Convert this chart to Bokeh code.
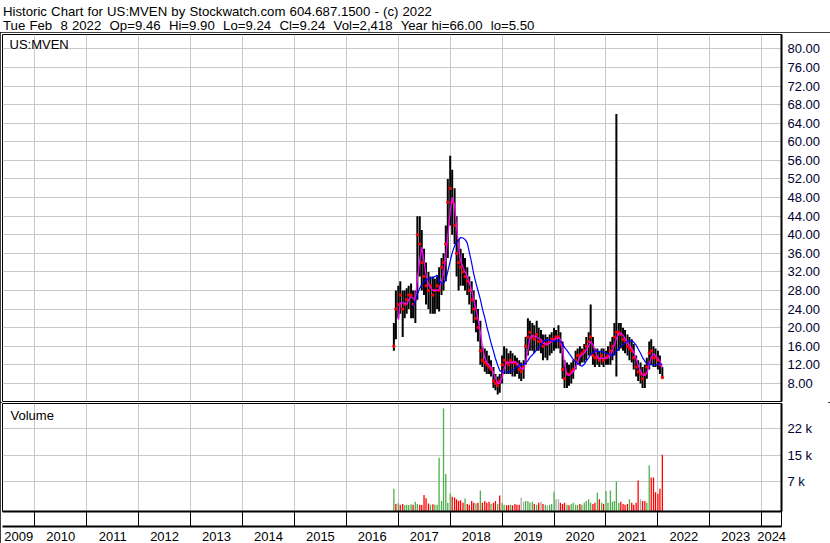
import numpy as np
import pandas as pd
from bokeh.plotting import figure
from bokeh.models import (Range1d, FixedTicker, LinearAxis, Grid, Label, Div,
                          CustomJSTickFormatter, PrintfTickFormatter, ColumnDataSource)
from bokeh.layouts import column
from bokeh.embed import file_html
from bokeh.resources import INLINE

TITLE_1 = "Historic Chart for US:MVEN by Stockwatch.com 604.687.1500 - (c) 2022"
TITLE_2 = "Tue Feb  8 2022  Op=9.46  Hi=9.90  Lo=9.24  Cl=9.24  Vol=2,418  Year hi=66.00  lo=5.50"
SYMBOL = "US:MVEN"
VOL_TITLE = "Volume"

# half-monthly bars (1st and 16th of each month), Dec 2016 .. Feb 2022
high_2016 = [21, 28]
high_2017 = [29, 30, 28, 28, 28.5, 29, 29.5, 28, 28, 44, 44, 41,
             37, 34, 32, 31, 31, 30.5, 31, 33, 35, 36, 42, 52]
high_2018 = [57, 54, 50, 44, 39, 37, 36, 35, 33, 31, 30, 28,
             26, 24, 21.5, 16, 15.5, 15, 14, 13, 11.5, 10, 9.5, 10]
high_2019 = [14, 16, 15.5, 14.5, 15, 14.5, 14, 13.5, 13, 12.5, 13, 18,
             22, 21.5, 21, 20.5, 21.5, 20, 19.5, 18.5, 18.5, 18, 18.5, 19]
high_2020 = [20, 19.5, 20.5, 19, 17, 13, 12.5, 12, 12.5, 13, 15, 15.5,
             16, 15.5, 16.5, 18, 19, 25, 18, 15.5, 15.5, 15, 15.5, 15.5]
high_2021 = [15, 16, 17, 18, 21, 66, 21, 21, 20, 19.5, 18.5, 18,
             17.5, 16.5, 14, 13, 12.5, 11.5, 12, 13.5, 17, 17.5, 16, 15.5]
high_2022 = [15, 14, 11.5]

low_2016 = [15, 17.5]
low_2017 = [22, 23, 18, 22, 23, 24, 22, 22, 21, 26, 31, 28,
            27, 25, 24, 23, 23, 23, 24, 23.5, 27, 28, 30, 35]
low_2018 = [42, 40, 38, 31, 28, 29, 29, 28, 27, 25, 23, 21,
            19, 17, 12, 11.5, 10.5, 10, 10, 9.5, 7, 6.5, 5.6, 6]
low_2019 = [8, 10, 10, 10, 10, 9.5, 9.5, 10, 9, 8.5, 9, 12,
            14, 15, 15, 14.5, 15, 15, 14.5, 13, 13.5, 13, 14, 14.5]
low_2020 = [15, 15.5, 15.5, 14.5, 9, 7, 7, 7.5, 8, 9, 11, 12,
            12, 12.5, 12.5, 13, 14, 14, 12, 11.5, 12, 11.5, 12, 11.5]
low_2021 = [12, 12, 12, 13, 14, 9.5, 15, 15.5, 15, 14.5, 14, 13,
            12.5, 11, 9.5, 8.5, 8, 7, 7, 9, 11, 12, 11.5, 11.5]
low_2022 = [11, 10, 9.2]

close_2016 = [16, 24]
close_2017 = [25, 27, 24, 25, 26, 27, 27, 25, 26, 40, 38, 34,
              31, 29, 28, 29, 27, 28, 29, 28, 33, 34, 38, 47]
close_2018 = [50, 47, 42, 36, 34, 33, 32, 31, 30, 28, 26, 24,
              22, 20, 15, 13, 12.5, 12, 11.5, 11, 8.5, 8, 7.5, 8.5]
close_2019 = [12, 13, 12.5, 12, 13, 12.5, 12.5, 12, 11, 10.5, 11.5, 16,
              18, 19, 18, 17.5, 18.5, 17, 17, 16, 16.5, 16.5, 17, 17.5]
close_2020 = [17.5, 18, 18, 16.5, 11, 9, 10, 10, 10.5, 11, 13, 14,
              14, 14.5, 15, 16, 17, 18, 14, 13.5, 13.5, 13, 14, 13]
close_2021 = [13.5, 14, 15, 16, 18, 19, 19, 18.5, 17.5, 17, 16, 15.5,
              15, 13.5, 11.5, 10.5, 10, 9, 10, 11.5, 14.5, 15, 13.5, 13.5]
close_2022 = [13, 12, 9.24]

vol_2016 = [5400, 1200]
vol_2017 = [1400, 1000, 1200, 800, 1000, 900, 1100, 1000, 1800, 1200, 1000, 900,
            3700, 2800, 1300, 1000, 1100, 1000, 1000, 14000, 2000, 27600, 9500, 1500]
vol_2018 = [4100, 3200, 3000, 2500, 2000, 2200, 1500, 2700, 1200, 1000, 2000, 1500,
            1300, 1500, 4900, 1500, 2000, 1500, 1800, 1200, 1500, 2000, 1200, 3500]
vol_2019 = [1500, 1000, 800, 900, 1000, 800, 1200, 1000, 1000, 2900, 1800, 2000,
            2000, 1500, 1800, 1200, 1000, 1500, 1800, 1200, 1000, 800, 1000, 1200]
vol_2020 = [4600, 2500, 2500, 1500, 1200, 1500, 1000, 800, 1200, 1500, 1000, 900,
            1200, 1000, 1500, 2000, 2500, 1500, 1200, 1500, 4300, 2500, 1500, 1200]
vol_2021 = [4800, 1500, 4900, 1800, 2000, 7400, 1500, 1800, 1200, 1000, 1200, 2500,
            1500, 1000, 1500, 7700, 2500, 2000, 2000, 1500, 11900, 8500, 8500, 4400]
vol_2022 = [4000, 5400, 14800]

# bar colour: u = up (green), d = down (red), n = unchanged (grey)
dir_2016 = "ud"
dir_2017 = "ud du uu ud uu dd dd du du uu uu uu"
dir_2018 = "ud dd dd du dd dd ud ud dd du dd ud"
dir_2019 = "uu dd ud dd dn nu uu ud ud nd un uu"
dir_2020 = "un nd dd ud uu uu du uu uu dd ud ud"
dir_2021 = "uu uu uu ud dd du dd dd nd du ud dd"
dir_2022 = "ddd"

YEARS = list(range(2010, 2025))
PRICE_TICKS = list(range(8, 81, 4))
VOL_TICKS = [7333, 14667, 22000]

X_LO, X_HI = 2009.378, 2024.38
PRICE_LO, PRICE_HI = 4.1, 83.1
VOL_LO, VOL_HI = -900, 29000

# ---------------------------------------------------------------- data
dates = pd.date_range("2016-12-01", "2022-02-01", freq="SMS")
high = high_2016 + high_2017 + high_2018 + high_2019 + high_2020 + high_2021 + high_2022
low = low_2016 + low_2017 + low_2018 + low_2019 + low_2020 + low_2021 + low_2022
close = close_2016 + close_2017 + close_2018 + close_2019 + close_2020 + close_2021 + close_2022
vol = vol_2016 + vol_2017 + vol_2018 + vol_2019 + vol_2020 + vol_2021 + vol_2022
dirs = "".join([dir_2016, dir_2017, dir_2018, dir_2019, dir_2020, dir_2021, dir_2022]).replace(" ", "")
n = min(len(dates), len(high), len(low), len(close), len(vol), len(dirs))
dates = dates[:n]

days_in_year = np.where(dates.is_leap_year, 366, 365)
t = (dates.year + (dates.dayofyear - 1) / days_in_year).to_numpy()

cs = pd.Series(close[:n])
ma_fast = cs.rolling(3).mean().to_numpy()
ma_slow = cs.rolling(10).mean().to_numpy()
cmap = {"u": "#4cb04c", "d": "#ff0000", "n": "#a8a8a8"}

src = ColumnDataSource(dict(t=t, high=high[:n], low=low[:n], close=close[:n],
                            ma_fast=ma_fast, ma_slow=ma_slow, vol=vol[:n],
                            vcol=[cmap[c] for c in dirs[:n]]))

FONT = "Liberation Sans"
FS = "13px"
GRID = "#c8c8c8"
W = 830
xr = Range1d(X_LO, X_HI)

def strip_grids(p):
    p.center = [r for r in p.center if not isinstance(r, Grid)]

def style_right_axis(ax):
    ax.major_tick_in = 0
    ax.major_tick_out = 0
    ax.minor_tick_in = 0
    ax.minor_tick_out = 0
    ax.axis_line_color = "black"
    ax.axis_line_width = 2
    ax.major_label_standoff = 6
    ax.major_label_text_font = FONT
    ax.major_label_text_font_size = FS
    ax.major_label_text_color = "#000033"

# ---------------------------------------------------------------- price
p1 = figure(width=W, height=370, x_range=xr, y_range=Range1d(PRICE_LO, PRICE_HI),
            x_axis_location=None, y_axis_location="right",
            output_backend="svg", toolbar_location=None,
            min_border_left=2, min_border_right=49, min_border_top=2, min_border_bottom=1)
p1.outline_line_color = "black"
p1.outline_line_width = 1
strip_grids(p1)
p1.add_layout(Grid(dimension=0, ticker=FixedTicker(ticks=YEARS), grid_line_color=GRID))
p1.add_layout(Grid(dimension=1, ticker=FixedTicker(ticks=PRICE_TICKS), grid_line_color=GRID))
ay = p1.yaxis[0]
ay.ticker = FixedTicker(ticks=PRICE_TICKS)
ay.formatter = PrintfTickFormatter(format="%.2f")
style_right_axis(ay)

p1.segment(x0="t", y0="low", x1="t", y1="high", source=src, line_color="black", line_width=2)
p1.scatter("t", "close", source=src, marker="square", size=2, color="#ff0000")
p1.line("t", "ma_fast", source=src, line_color="#ff00ff", line_width=1.3)
p1.line("t", "ma_slow", source=src, line_color="#0000ff", line_width=1.2)
p1.add_layout(Label(x=X_LO, y=PRICE_HI, x_offset=7, y_offset=-2, text=SYMBOL,
                    text_baseline="top", text_font=FONT, text_font_size=FS,
                    text_color="black"))

# ---------------------------------------------------------------- volume
p2 = figure(width=W, height=141, x_range=xr, y_range=Range1d(VOL_LO, VOL_HI),
            x_axis_location=None, y_axis_location="right",
            output_backend="svg", toolbar_location=None,
            min_border_left=2, min_border_right=49, min_border_top=1, min_border_bottom=3)
p2.outline_line_color = "black"
p2.outline_line_width = 1
strip_grids(p2)
p2.add_layout(Grid(dimension=0, ticker=FixedTicker(ticks=YEARS), grid_line_color=GRID))
p2.add_layout(Grid(dimension=1, ticker=FixedTicker(ticks=VOL_TICKS), grid_line_color=GRID))
vy = p2.yaxis[0]
vy.ticker = FixedTicker(ticks=VOL_TICKS)
vy.formatter = CustomJSTickFormatter(code="return Math.round(tick/1000) + ' k';")
style_right_axis(vy)

p2.vbar(x="t", top="vol", bottom=VOL_LO, width=0.6 / 24, source=src,
        fill_color="vcol", line_color=None)
p2.add_layout(Label(x=X_LO, y=VOL_HI, x_offset=8, y_offset=-4, text=VOL_TITLE,
                    text_baseline="top", text_font=FONT, text_font_size=FS,
                    text_color="black"))

# tick band: year boundaries
ax_a = LinearAxis(ticker=FixedTicker(ticks=YEARS + [X_HI - 0.003]),
                  formatter=CustomJSTickFormatter(code="return '';"))
ax_a.major_tick_in = 0
ax_a.major_tick_out = 15
ax_a.major_tick_line_color = "black"
ax_a.minor_tick_out = 0
ax_a.minor_tick_in = 0
ax_a.major_label_standoff = 0
ax_a.major_label_text_font_size = "0px"
ax_a.axis_line_color = "black"
ax_a.axis_line_width = 2
p2.add_layout(ax_a, "below")

# label row: years centred in their (visible) span
label_pos = []
for y in [2009] + YEARS:
    a, b = max(y, X_LO), min(y + 1, X_HI)
    if b > a:
        label_pos.append((a + b) / 2)
ax_b = LinearAxis(ticker=FixedTicker(ticks=label_pos),
                  formatter=CustomJSTickFormatter(code="return String(Math.floor(tick));"))
ax_b.major_tick_in = 0
ax_b.major_tick_out = 0
ax_b.minor_tick_in = 0
ax_b.minor_tick_out = 0
ax_b.major_label_standoff = 5
ax_b.major_label_text_font = FONT
ax_b.major_label_text_font_size = FS
ax_b.major_label_text_color = "black"
ax_b.axis_line_color = "black"
ax_b.axis_line_width = 2
p2.add_layout(ax_b, "below")

title_div = Div(text=TITLE_1 + "<br>" + TITLE_2.replace("  ", "&nbsp; "),
                width=W, height=32, margin=(0, 0, 0, 0),
                styles={"font-family": FONT, "font-size": "13.2px", "line-height": "14px",
                        "word-spacing": "0.5px",
                        "color": "black", "padding-left": "3px", "padding-top": "5px"})

box = column(p1, p2, spacing=0,
             styles={"outline": "2px solid black", "outline-offset": "-2px"})
layout = column(title_div, box, spacing=0)

open("out.html", "w").write(file_html(layout, INLINE))
